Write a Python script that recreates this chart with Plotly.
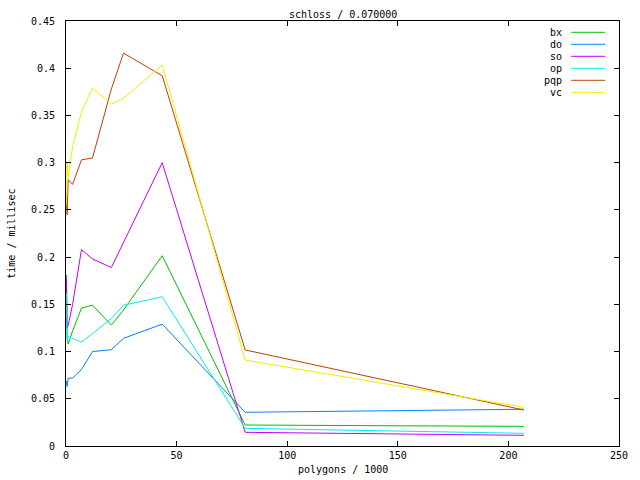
import plotly.graph_objects as go

# data
polygons_k = [0.2, 0.5, 1, 3, 7, 12, 20.5, 26, 43.5, 81, 207]
bx = [0.181, 0.115, 0.108, 0.122, 0.146, 0.149, 0.128, 0.144, 0.2015, 0.0222, 0.0208]
do = [0.069, 0.063, 0.0717, 0.072, 0.081, 0.100, 0.102, 0.114, 0.129, 0.0357, 0.0389]
so = [0.178, 0.125, 0.128, 0.150, 0.208, 0.198, 0.189, 0.2155, 0.300, 0.0145, 0.0113]
op = [0.162, 0.112, 0.116, 0.114, 0.110, 0.119, 0.135, 0.149, 0.158, 0.0187, 0.0134]
pqp = [0.265, 0.245, 0.282, 0.277, 0.303, 0.305, 0.378, 0.416, 0.392, 0.1017, 0.0381]
vc = [0.255, 0.300, 0.285, 0.317, 0.354, 0.379, 0.362, 0.368, 0.4034, 0.091, 0.041]

names = ["bx", "do", "so", "op", "pqp", "vc"]
series = [bx, do, so, op, pqp, vc]
colors = ["#00c000", "#0080ff", "#c000ff", "#00eeee", "#c04000", "#eeee00"]

title_text = "schloss / 0.070000"
x_title = "polygons / 1000"
y_title = "time / millisec"

FONT = "DejaVu Sans Mono"
W, H = 640, 480
# plot area in window pixels: x 66..621, y 21..446
L, R, T, B = 66, W - 621, 21, H - 446
pw, ph = 621 - 66, 446 - 21

def px2paper_x(px):
    return (px - 66) / pw

def py2paper_y(py):
    return (446 - py) / ph

fig = go.Figure()
for n, s, c in zip(names, series, colors):
    fig.add_trace(go.Scatter(x=polygons_k, y=s, mode="lines", name=n,
                             line=dict(color=c, width=1), showlegend=False,
                             hoverinfo="skip"))

shapes = []
annotations = []
for i, (n, c) in enumerate(zip(names, colors)):
    py = 32.3 + i * 12.0
    annotations.append(dict(x=px2paper_x(566), y=py2paper_y(py), xref="paper", yref="paper",
                            text=n, showarrow=False, xanchor="right", yanchor="middle",
                            font=dict(family=FONT, size=10, color="black")))
    shapes.append(dict(type="line", xref="paper", yref="paper",
                       x0=px2paper_x(573), x1=px2paper_x(607),
                       y0=py2paper_y(py), y1=py2paper_y(py),
                       line=dict(color=c, width=1)))

annotations.append(dict(x=0.5, y=py2paper_y(469), xref="paper", yref="paper", text=x_title,
                        showarrow=False, xanchor="center", yanchor="middle",
                        font=dict(family=FONT, size=10, color="black")))
annotations.append(dict(x=px2paper_x(11), y=0.5, xref="paper", yref="paper", text=y_title,
                        showarrow=False, xanchor="center", yanchor="middle", textangle=-90,
                        font=dict(family=FONT, size=10, color="black")))
annotations.append(dict(x=0.5, y=py2paper_y(15), xref="paper", yref="paper", text=title_text,
                        showarrow=False, xanchor="center", yanchor="middle",
                        font=dict(family=FONT, size=10, color="black")))

fig.update_layout(
    width=W, height=H,
    margin=dict(l=L, r=R, t=T, b=B, pad=0),
    paper_bgcolor="white", plot_bgcolor="white",
    font=dict(family=FONT, size=10, color="black"),
    shapes=shapes, annotations=annotations,
    xaxis=dict(range=[0, 250], tickvals=[0, 50, 100, 150, 200, 250],
               ticks="inside", ticklen=5, tickcolor="black", tickwidth=1,
               showline=True, linecolor="black", linewidth=1, mirror="ticks",
               showgrid=False, zeroline=False, ticklabelstandoff=0),
    yaxis=dict(range=[0, 0.45], tickvals=[0, 0.05, 0.1, 0.15, 0.2, 0.25, 0.3, 0.35, 0.4, 0.45],
               ticktext=["0", "0.05", "0.1", "0.15", "0.2", "0.25", "0.3", "0.35", "0.4", "0.45"],
               ticks="inside", ticklen=5, tickcolor="black", tickwidth=1,
               showline=True, linecolor="black", linewidth=1, mirror="ticks",
               showgrid=False, zeroline=False, ticklabelstandoff=8),
)

fig.write_html("out.html", config={"displayModeBar": False, "staticPlot": True},
               post_script="document.body.style.margin='0px';document.body.style.overflow='hidden';")
